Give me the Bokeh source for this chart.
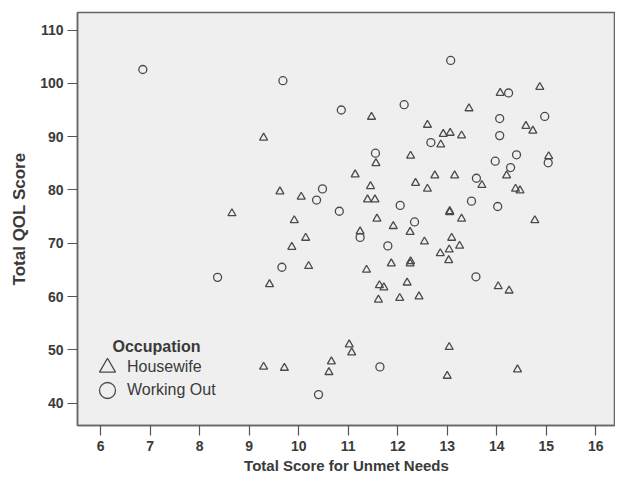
from bokeh.plotting import figure
from bokeh.models import ColumnDataSource, Legend, LegendItem, Label, FixedTicker, Range1d
from bokeh.embed import file_html
from bokeh.resources import INLINE

# ---- data ----
housewife_x = [11.47, 12.60, 9.29, 12.26, 14.07, 14.87, 13.44, 14.59, 14.73, 12.92,
               13.06, 13.29, 12.87, 15.05, 11.56, 11.14, 12.36, 12.60, 11.45, 9.62,
               10.05, 11.39, 11.54, 11.58, 9.91, 11.91, 12.25, 11.24, 12.54, 10.14,
               9.86, 11.87, 12.26, 12.25, 10.20, 11.37, 9.41, 11.63, 11.72, 12.19,
               11.61, 12.04, 12.43, 12.75, 13.15, 13.70, 14.20, 14.38, 14.47, 13.05,
               13.05, 13.29, 14.77, 13.09, 13.25, 12.86, 13.04, 13.03, 14.03, 14.25,
               8.65, 9.29, 9.71, 11.02, 11.07, 10.66, 10.61, 13.04, 13.00, 14.42]
housewife_y = [93.7, 92.2, 89.8, 86.4, 98.2, 99.3, 95.3, 92.0, 91.1, 90.5,
               90.7, 90.2, 88.5, 86.3, 85.0, 82.9, 81.3, 80.2, 80.7, 79.7,
               78.7, 78.2, 78.2, 74.6, 74.3, 73.2, 72.1, 72.2, 70.3, 71.0,
               69.3, 66.2, 66.6, 66.2, 65.7, 65.0, 62.3, 62.1, 61.7, 62.6,
               59.4, 59.7, 60.0, 82.7, 82.7, 80.9, 82.7, 80.2, 79.9, 76.0,
               75.8, 74.6, 74.3, 71.0, 69.5, 68.1, 68.8, 66.8, 61.9, 61.1,
               75.6, 46.8, 46.6, 51.0, 49.5, 47.8, 45.8, 50.5, 45.1, 46.3]
working_x = [6.85, 9.68, 10.86, 12.13, 11.55, 13.07, 14.24, 14.06, 14.97, 14.06,
             12.67, 13.97, 14.40, 15.04, 10.48, 10.36, 12.05, 10.82, 12.34, 11.24,
             11.80, 9.66, 13.59, 14.28, 13.49, 14.02, 13.58, 8.36, 11.64, 10.40]
working_y = [102.6, 100.5, 95.0, 96.0, 86.9, 104.3, 98.2, 93.4, 93.8, 90.2,
             88.9, 85.4, 86.6, 85.1, 80.2, 78.1, 77.1, 76.0, 74.0, 71.1,
             69.5, 65.5, 82.2, 84.2, 77.9, 76.9, 63.7, 63.6, 46.8, 41.6]

x_ticks = [6, 7, 8, 9, 10, 11, 12, 13, 14, 15, 16]
y_ticks = [40, 50, 60, 70, 80, 90, 100, 110]

group_labels = ["Housewife", "Working Out"]
legend_title = "Occupation"
x_title = "Total Score for Unmet Needs"
y_title = "Total QOL Score"

FONT = "Liberation Sans"
INK = "#3a3a3a"
MARK = "#4a4a4a"

p = figure(width=615, height=476, output_backend="svg", toolbar_location=None,
           x_range=Range1d(5.53, 16.40), y_range=Range1d(35.8, 113.3),
           min_border_left=77, min_border_right=0, min_border_top=12, min_border_bottom=51)

p.background_fill_color = "#efefef"
p.border_fill_color = "white"
p.outline_line_color = "#666666"
p.outline_line_width = 1.5
p.grid.visible = False

hw = p.scatter(x="x", y="y", source=ColumnDataSource(dict(x=housewife_x, y=housewife_y)),
               marker="triangle", size=8, fill_color=None, line_color=MARK, line_width=1.3)
wo = p.scatter(x="x", y="y", source=ColumnDataSource(dict(x=working_x, y=working_y)),
               marker="circle", size=8, fill_color=None, line_color=MARK, line_width=1.3)

for ax, ticks in ((p.xaxis[0], x_ticks), (p.yaxis[0], y_ticks)):
    ax.ticker = FixedTicker(ticks=ticks)
    ax.minor_tick_line_color = None
    ax.major_tick_in = 0
    ax.major_tick_line_color = "#555555"
    ax.major_tick_line_width = 1.2
    ax.axis_line_color = "#666666"
    ax.axis_line_width = 1.5
    ax.major_label_text_font = FONT
    ax.major_label_text_font_style = "bold"
    ax.major_label_text_font_size = "14px"
    ax.major_label_text_color = INK
    ax.axis_label_text_font = FONT
    ax.axis_label_text_font_style = "bold"
    ax.axis_label_text_color = INK

p.xaxis[0].major_tick_out = 10
p.xaxis[0].major_label_standoff = 5
p.xaxis[0].axis_label = x_title
p.xaxis[0].axis_label_standoff = 3
p.xaxis[0].axis_label_text_font_size = "15px"
p.yaxis[0].major_tick_out = 10
p.yaxis[0].major_label_standoff = 4
p.yaxis[0].axis_label = y_title
p.yaxis[0].axis_label_standoff = 8
p.yaxis[0].axis_label_text_font_size = "17px"

legend_style = dict(orientation="vertical", glyph_width=40, glyph_height=40,
                    label_standoff=0, padding=0, margin=0, spacing=0,
                    border_line_color=None, background_fill_alpha=0,
                    label_text_font=FONT, label_text_font_size="16px",
                    label_text_color=INK)
legend_hw = Legend(items=[LegendItem(label=group_labels[0], renderers=[hw])],
                   location=(10, 38), **legend_style)
legend_wo = Legend(items=[LegendItem(label=group_labels[1], renderers=[wo])],
                   location=(10, 15), **legend_style)
p.add_layout(legend_hw, "center")
p.add_layout(legend_wo, "center")

p.add_layout(Label(x=35, y=79, x_units="screen", y_units="screen", text=legend_title,
                   text_font=FONT, text_font_style="bold", text_font_size="16px",
                   text_color=INK, text_baseline="middle"))

open("out.html", "w").write(file_html(p, INLINE))
